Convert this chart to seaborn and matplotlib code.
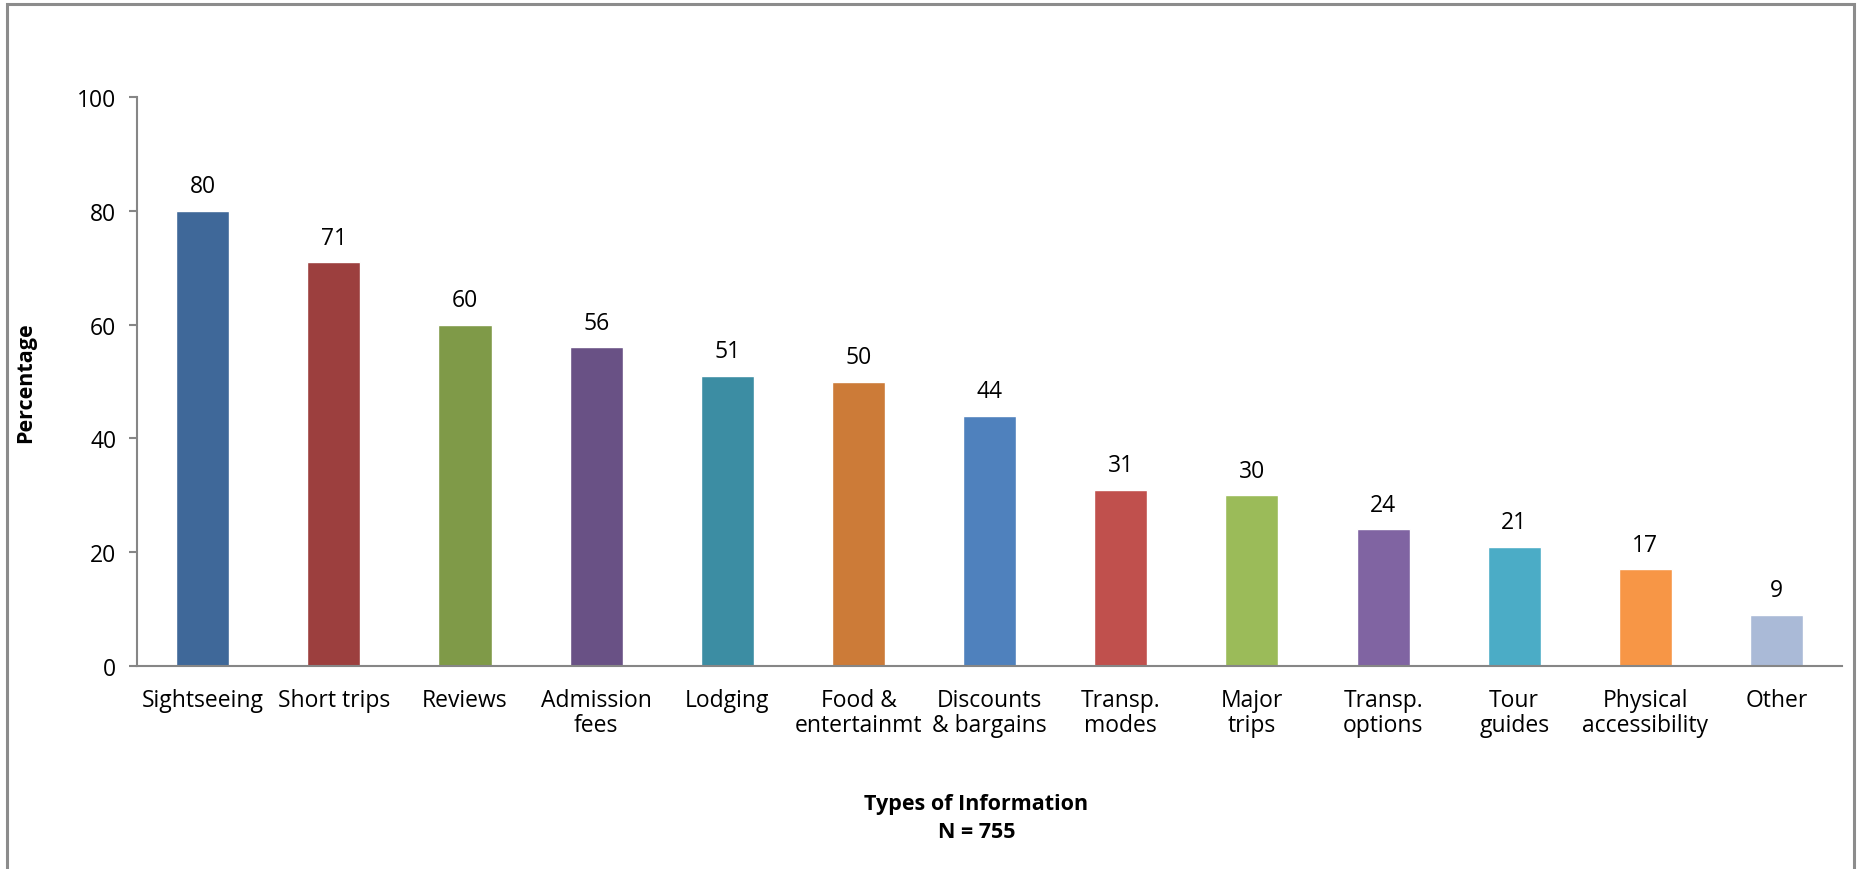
import numpy as np
import pandas as pd
import matplotlib
matplotlib.use("Agg")
import matplotlib.pyplot as plt
from matplotlib.patches import Rectangle
import seaborn as sns

# data
categories = ["Sightseeing", "Short trips", "Reviews", "Admission\nfees", "Lodging",
              "Food &\nentertainmt", "Discounts\n& bargains", "Transp.\nmodes", "Major\ntrips",
              "Transp.\noptions", "Tour\nguides", "Physical\naccessibility", "Other"]
percentages = [80, 71, 60, 56, 51, 50, 44, 31, 30, 24, 21, 17, 9]
bar_colors = ["#3F6899", "#9C3F3E", "#7F9A48", "#695185", "#3C8DA3", "#CC7B38", "#4F81BD",
              "#C0504D", "#9BBB59", "#8064A2", "#4BACC6", "#F79646", "#AABAD7"]
y_ticks = [0, 20, 40, 60, 80, 100]

df = pd.DataFrame({"Type": categories, "Percentage": percentages})

sns.set_style("white")
plt.rcParams["font.family"] = ["Open Sans", "DejaVu Sans"]
plt.rcParams["text.color"] = "black"
plt.rcParams["xtick.color"] = "black"
plt.rcParams["ytick.color"] = "black"
plt.rcParams["axes.labelcolor"] = "black"

fig = plt.figure(figsize=(18.6, 8.7), dpi=100)
ax = fig.add_axes([0.0737, 0.2333, 0.9167, 0.654])

sns.barplot(data=df, x="Type", y="Percentage", hue="Type", palette=bar_colors,
            legend=False, width=0.405, saturation=1, ax=ax)

axis_gray = "#868686"
ax.set_ylim(0, 100)
ax.set_xlim(-0.5, len(categories) - 0.5)
ax.set_yticks(y_ticks)
ax.set_yticklabels([str(t) for t in y_ticks], fontsize=16.5)
ax.set_xticks(range(len(categories)))
ax.set_xticklabels(categories, fontsize=16.5, linespacing=1.05)
ax.set_xticks(np.arange(-0.5, len(categories)), minor=True)
ax.tick_params(axis="x", which="major", length=0, pad=16)
ax.tick_params(axis="x", which="minor", length=6, width=1.5, color=axis_gray, direction="out")
ax.tick_params(axis="y", length=6, width=1.5, color=axis_gray, direction="out", pad=9, left=True,
               labelcolor="black")

for side in ["top", "right"]:
    ax.spines[side].set_visible(False)
for side in ["left", "bottom"]:
    ax.spines[side].set_color(axis_gray)
    ax.spines[side].set_linewidth(1.5)

for i, v in enumerate(percentages):
    ax.annotate(str(v), (i, v), xytext=(0, 9), textcoords="offset points",
                ha="center", va="bottom", fontsize=16.5)

ax.set_ylabel("Percentage", fontsize=15.5, fontweight="bold")
ax.set_xlabel("")
ax.yaxis.set_label_coords(-0.059, 0.5)

fig.text(0.525, 0.059, "Types of Information\nN = 755", ha="center", va="center",
         fontsize=15.5, fontweight="bold", linespacing=1.45)

# outer chart border (open at the bottom like the source crop)
fig.patches.append(Rectangle((0.0035, -0.05), 0.9935, 1.044, transform=fig.transFigure,
                             fill=False, edgecolor="#8C8C8C", linewidth=2.2))

fig.savefig("out.png", dpi=100)
